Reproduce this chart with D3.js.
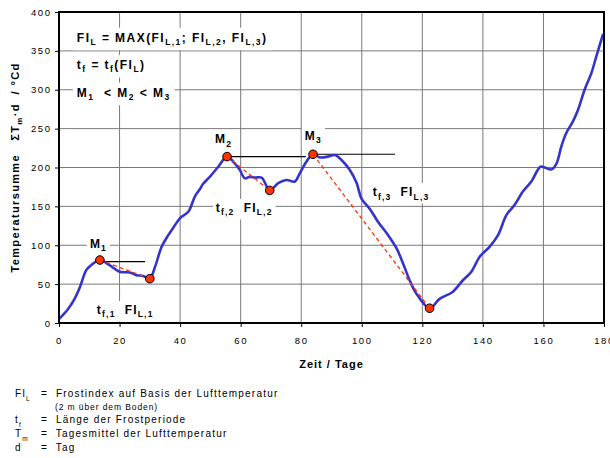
<!DOCTYPE html>
<html><head><meta charset="utf-8">
<script src="https://cdn.jsdelivr.net/npm/d3@7"></script>
<style>
body{margin:0;background:#fff}
svg{font-family:"Liberation Sans",Arial,Helvetica,sans-serif}
</style>
</head><body>
<svg id="c" width="610" height="458"></svg>
<script>
// ---- data ----
const days   = [0,3,5,7,9,10.8,13.5,16.8,20,23.4,25.6,27.8,30,31.7,33.9,36.1,38,40,42.7,44.9,46.5,47.6,49.8,52.6,55.5,58.1,59.7,61.4,63,64.7,66.9,69.6,72.4,75.1,77.9,79.5,81.7,83.9,86.1,88.9,91.1,93.3,96,98.3,99.9,102.6,105.4,108.7,111.5,113.6,115.8,118,122.4,125.7,130,133.4,136.2,138.9,142.2,145,147.8,150.5,153.2,156,159,160.4,162.6,164.3,165.9,167.5,169.7,171.4,173.6,175.8,177.4,179.7];
const values = [5,18,30,47,68,75,81,74,66,65,61.5,60.5,57,72,98,113,124,135,143,163,172,179,188,201,214,205,197,186,188,187,187,170.5,180,184,182,192.5,207.5,217,213,214,216,209.6,197,180,160,147,130,113,96,77,55,38,19,31,40,55,66,85,98,113,139,152,169,182,201,200,197.5,205,227,244,259,274,300,321,342,372];

const markerDays   = [13.5, 30, 55.5, 69.6, 83.9, 122.4];
const markerValues = [81, 57, 214, 170.5, 217, 19];
// dashed connectors: pairs of marker indices
const dashPairs = [[0,1],[2,3],[4,5]];
// horizontal reference lines from each maximum
const levelStartDays = [13.5, 55.5, 83.9];
const levelEndDays   = [28.4, 81.5, 111];
const levelValues    = [79, 214, 217];

const xTicks = [0,20,40,60,80,100,120,140,160,180];
const yTicks = [0,50,100,150,200,250,300,350,400];
const xTitle = "Zeit / Tage";

// annotation labels (anchor in data units)
const annDays   = [10.2, 51.5, 81.2, 12.5, 51.8, 103.6];
const annValues = [96.5, 231.5, 235.4, 11.6, 142.8, 163.3];
const annParts = [
  [["M"],["1",1]],
  [["M"],["2",1]],
  [["M"],["3",1]],
  [["t"],["f,1",1],["  FI"],["L,1",1]],
  [["t"],["f,2",1],["  FI"],["L,2",1]],
  [["t"],["f,3",1],["  FI"],["L,3",1]]
];
// formula block lines
const formulaLines = [
  [["FI"],["L",1],[" = MAX(FI"],["L,1",1],["; FI"],["L,2",1],[", FI"],["L,3",1],[")"]],
  [["t"],["f",1],[" = t"],["f",1],["(FI"],["L",1],[")"]],
  [["M"],["1",1],["  < M"],["2",1],[" < M"],["3",1]]
];
const formulaDay = 5.9;
const formulaValues = [361.8, 326.7, 291];

// legend
const legendSym  = [[["FI"],["L",1]], null, [["t"],["f",1]], [["T"],["m",1]], [["d"]]];
const legendText = ["=  Frostindex auf Basis der Lufttemperatur","(2 m über dem Boden)","=  Länge der Frostperiode","=  Tagesmittel der Lufttemperatur","=  Tag"];

// ---- drawing ----
const svg = d3.select("#c");
const L=59, R=604, T=12, B=323;
const x = d3.scaleLinear().domain([0,180]).range([L,R]);
const y = d3.scaleLinear().domain([0,400]).range([B,T]);

// grid
const grid = svg.append("g");
grid.selectAll(".vx").data(xTicks.slice(1,-1)).enter().append("line")
  .attr("x1",d=>x(d)).attr("x2",d=>x(d)).attr("y1",T).attr("y2",B)
  .attr("stroke","#7a7a7a").attr("stroke-width",1);
grid.selectAll(".hy").data(yTicks.slice(1,-1)).enter().append("line")
  .attr("y1",d=>y(d)).attr("y2",d=>y(d)).attr("x1",L).attr("x2",R)
  .attr("stroke","#7a7a7a").attr("stroke-width",1);

// axes
const yAxis = svg.append("g").attr("transform",`translate(${L},0)`)
  .call(d3.axisLeft(y).tickValues(yTicks).tickSize(4).tickPadding(5).tickFormat(d3.format("d")));
const xAxis = svg.append("g").attr("transform",`translate(0,${B})`)
  .call(d3.axisBottom(x).tickValues(xTicks).tickSize(4).tickPadding(10).tickFormat(d3.format("d")));
[yAxis,xAxis].forEach(a=>{
  a.select(".domain").remove();
  a.selectAll("line").attr("stroke","#000");
  a.selectAll("text").attr("font-size",9.5).attr("letter-spacing",1.6).attr("fill","#000")
   .attr("font-family","'Liberation Sans',Arial,sans-serif");
});
yAxis.selectAll("text").attr("dx",1.6);

// rich text helper
function rich(g, px, py, parts, size, subSize, weight, ls){
  const t = g.append("text").attr("x",px).attr("y",py).attr("font-size",size)
    .attr("font-weight",weight).attr("letter-spacing",ls).attr("fill","#000")
    .attr("xml:space","preserve").style("white-space","pre");
  let down=false;
  parts.forEach(p=>{
    const s = t.append("tspan").text(p[0]);
    if(p[1]){ s.attr("font-size",subSize); if(!down){s.attr("dy",3.5);down=true;} }
    else if(down){ s.attr("dy",-3.5); down=false; }
  });
  return t;
}

const bgLayer = svg.append("g");
const lineLayer = svg.append("g");
const textLayer = svg.append("g");

function boxed(node,pad){
  const b=node.node().getBBox();
  bgLayer.append("rect").attr("x",b.x-pad).attr("y",b.y-pad+1).attr("width",b.width+2*pad).attr("height",b.height+2*pad-2).attr("fill","#fff");
}

// formula block
formulaLines.forEach((parts,i)=>{
  const t=rich(textLayer,x(formulaDay),y(formulaValues[i]),parts,12,8.5,"bold",1.45);
  boxed(t,4);
});
// annotations
annParts.forEach((parts,i)=>{
  const t=rich(textLayer,x(annDays[i]),y(annValues[i]),parts,12,8.5,"bold",1.2);
  boxed(t,3);
});

// level lines
lineLayer.selectAll(".lev").data(levelValues).enter().append("line")
  .attr("x1",(d,i)=>x(levelStartDays[i])).attr("x2",(d,i)=>x(levelEndDays[i]))
  .attr("y1",d=>y(d)).attr("y2",d=>y(d)).attr("stroke","#000").attr("stroke-width",1.1);

// curve
const pts = days.map((d,i)=>[d,values[i]]);
lineLayer.append("path").datum(pts)
  .attr("d",d3.line().x(d=>x(d[0])).y(d=>y(d[1])).curve(d3.curveCatmullRom.alpha(0.5)))
  .attr("fill","none").attr("stroke","#3434cc").attr("stroke-width",2.6).attr("stroke-linejoin","round");

// dashed connectors
lineLayer.selectAll(".dash").data(dashPairs).enter().append("line")
  .attr("x1",d=>x(markerDays[d[0]])).attr("y1",d=>y(markerValues[d[0]]))
  .attr("x2",d=>x(markerDays[d[1]])).attr("y2",d=>y(markerValues[d[1]]))
  .attr("stroke","#ff3300").attr("stroke-width",1.3).attr("stroke-dasharray","4,3");

// markers
lineLayer.selectAll(".mk").data(markerDays).enter().append("circle")
  .attr("cx",d=>x(d)).attr("cy",(d,i)=>y(markerValues[i])).attr("r",4.3)
  .attr("fill","#ff3300").attr("stroke","#000").attr("stroke-width",1);

// frame
svg.append("rect").attr("x",L).attr("y",T).attr("width",R-L).attr("height",B-T)
  .attr("fill","none").attr("stroke","#000").attr("stroke-width",2);

// axis titles
svg.append("text").attr("x",(L+R)/2).attr("y",368).attr("text-anchor","middle")
  .attr("font-size",11).attr("font-weight","bold").attr("letter-spacing",1).text(xTitle);
const yt = svg.append("text").attr("transform",`translate(19,${(T+B)/2}) rotate(-90)`)
  .attr("text-anchor","middle").attr("font-size",11).attr("font-weight","bold").attr("letter-spacing",1.35)
  .attr("xml:space","preserve").style("white-space","pre");
yt.append("tspan").text("Temperatursumme   ΣT");
yt.append("tspan").text("m").attr("font-size",8).attr("dy",3);
yt.append("tspan").text("·d  / °Cd").attr("dy",-3);

// legend
const legY = [397, 410, 423, 437, 451];
legendText.forEach((txt,i)=>{
  if(legendSym[i]) rich(svg,15,legY[i],legendSym[i],10,6.5,"normal",1.1);
  svg.append("text").attr("x",i===1?55:41).attr("y",legY[i]).attr("font-size",i===1?8.5:10)
    .attr("letter-spacing",i===1?0.9:1.2).attr("xml:space","preserve").style("white-space","pre").text(txt);
});
</script>
</body></html>
